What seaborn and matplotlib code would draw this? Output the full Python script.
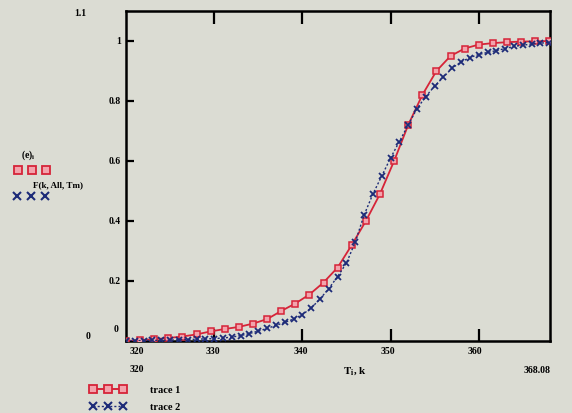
import numpy as np
import pandas as pd
import matplotlib
matplotlib.use("Agg")
import matplotlib.pyplot as plt
from matplotlib.lines import Line2D
import seaborn as sns

# Measured data (red squares) on a 1.6 K grid
t_meas = [320.0, 321.6, 323.2, 324.8, 326.4, 328.0, 329.6, 331.2, 332.8, 334.4,
          336.0, 337.6, 339.2, 340.8, 342.4, 344.0, 345.6, 347.2, 348.8, 350.4,
          352.0, 353.6, 355.2, 356.8, 358.4, 360.0, 361.6, 363.2, 364.8, 366.4, 368.0]
e_meas = [0.000, 0.003, 0.006, 0.010, 0.015, 0.022, 0.032, 0.040, 0.047, 0.058,
          0.073, 0.100, 0.125, 0.155, 0.195, 0.245, 0.320, 0.400, 0.490, 0.600,
          0.720, 0.820, 0.900, 0.950, 0.975, 0.988, 0.993, 0.996, 0.998, 0.999, 1.000]

# Fitted model F(k, All, Tm) on a 1 K grid
t_fit = list(range(320, 369))
f_fit = [0.000, 0.001, 0.001, 0.002, 0.002, 0.003, 0.004, 0.005, 0.006, 0.007,
         0.008, 0.010, 0.013, 0.018, 0.025, 0.033, 0.042, 0.052, 0.062, 0.073,
         0.088, 0.110, 0.140, 0.175, 0.215, 0.260, 0.330, 0.420, 0.490, 0.550,
         0.610, 0.665, 0.720, 0.775, 0.815, 0.850, 0.880, 0.910, 0.930, 0.945,
         0.955, 0.962, 0.968, 0.975, 0.982, 0.986, 0.990, 0.993, 0.995]

x_ticks = [330, 340, 350, 360]
y_ticks = [0.2, 0.4, 0.6, 0.8, 1.0]
y_tick_labels = ["0.2", "0.4", "0.6", "0.8", "1"]
x_min, x_max = 320, 368.08
y_min, y_max = 0, 1.1

RED = "#d62438"
RED_FILL = "#f3a3ac"
BLUE = "#1d2b78"
BG = "#dbdcd3"

sns.set_theme(style="white")
plt.rcParams["font.family"] = ["Liberation Serif", "DejaVu Serif"]
plt.rcParams["mathtext.fontset"] = "stix"

W, H = 572, 414
fig = plt.figure(figsize=(W / 100, H / 100), dpi=100, facecolor=BG)
ax = fig.add_axes([126 / W, 1 - 342 / H, (550 - 126) / W, (342 - 12) / H])
ax.set_facecolor(BG)

meas = pd.DataFrame({"T": t_meas, "e": e_meas})
fit = pd.DataFrame({"T": t_fit, "F": f_fit})

sns.lineplot(data=meas, x="T", y="e", ax=ax, color=RED, linewidth=1.3,
             marker="s", markersize=4.6, markerfacecolor=RED_FILL,
             markeredgecolor=RED, markeredgewidth=1.1, zorder=3)
sns.lineplot(data=fit, x="T", y="F", ax=ax, color=BLUE, linewidth=1.0,
             linestyle=(0, (1.5, 1.5)), marker="x", markersize=4.6,
             markeredgecolor=BLUE, markeredgewidth=1.3, zorder=4)

ax.set_xlim(x_min, x_max)
ax.set_ylim(y_min, y_max)
ax.set_xlabel("")
ax.set_ylabel("")
ax.set_xticks(x_ticks)
ax.set_yticks(y_ticks)
ax.set_xticklabels([])
ax.set_yticklabels([])
ax.tick_params(axis="x", direction="in", length=9, width=1.6, color="black",
               top=True, bottom=True)
ax.tick_params(axis="y", direction="in", length=6, width=1.6, color="black",
               left=True, right=False)
for s in ax.spines.values():
    s.set_visible(True)
    s.set_color("black")
    s.set_linewidth(1.8)


def ftext(x, y, s, size=7, ha="center", **kw):
    fig.text(x / W, 1 - y / H, s, ha=ha, va="center", fontsize=size,
             fontweight="bold", color="black", **kw)


# axis limits and tick values
ftext(80, 14, "1.1")
for v, lab in zip(y_ticks, y_tick_labels):
    py = 342 - v * 300
    ftext(121, py, lab, ha="right")
ftext(88, 337, "0")
ftext(116, 330, "0")
ftext(137, 352, "320")
for v in x_ticks:
    ftext(126 + (v - 320) * 8.73, 352, str(v))
ftext(137, 370, "320")
ftext(355, 371, r"$\mathbf{T_i}$, k", size=8)
ftext(537, 371, "368.08")

# trace names beside the y axis
ftext(28, 155, r"(e)$_\mathbf{i}$", size=7)
ftext(58, 185, "F(k, All, Tm)", size=6.5)
fig.add_artist(Line2D([18 / W, 32 / W, 46 / W], [1 - 171 / H] * 3, transform=fig.transFigure,
                      linestyle="none", marker="s", markersize=5.5, color=RED,
                      markerfacecolor=RED_FILL, markeredgecolor=RED, markeredgewidth=1.3))
fig.add_artist(Line2D([17 / W, 31 / W, 45 / W], [1 - 197 / H] * 3, transform=fig.transFigure,
                      linestyle="none", marker="x", markersize=5.5, color=BLUE,
                      markeredgewidth=1.5))

# legend below the plot
fig.add_artist(Line2D([93 / W, 108 / W, 123 / W], [1 - 390 / H] * 3, transform=fig.transFigure,
                      linestyle="-", linewidth=1.4, marker="s", markersize=5.5, color=RED,
                      markerfacecolor=RED_FILL, markeredgecolor=RED, markeredgewidth=1.3))
fig.add_artist(Line2D([93 / W, 108 / W, 123 / W], [1 - 407 / H] * 3, transform=fig.transFigure,
                      linestyle=(0, (1.5, 1.5)), linewidth=1.0, marker="x", markersize=5.5,
                      color=BLUE, markeredgewidth=1.5))
ftext(150, 391, "trace 1", size=7.5, ha="left")
ftext(150, 408, "trace 2", size=7.5, ha="left")

fig.savefig("out.png", dpi=100, facecolor=BG)
